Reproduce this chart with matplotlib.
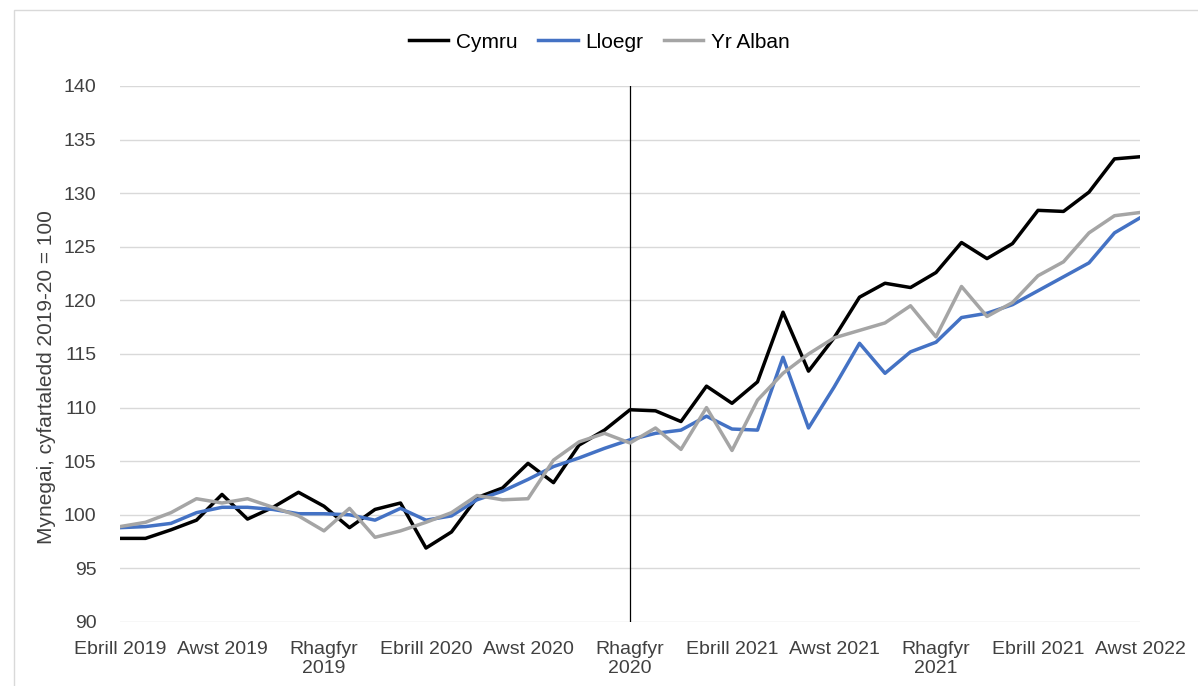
import matplotlib
matplotlib.use("Agg")
import matplotlib.pyplot as plt
from matplotlib.patches import Rectangle

plt.rcParams['font.family'] = ['Liberation Sans', 'DejaVu Sans']

tick_labels = ["Ebrill 2019", "Awst 2019", "Rhagfyr\n2019", "Ebrill 2020", "Awst 2020",
               "Rhagfyr\n2020", "Ebrill 2021", "Awst 2021", "Rhagfyr\n2021", "Ebrill 2021",
               "Awst 2022"]

cymru = [97.8, 97.8, 98.6, 99.5, 101.9, 99.6, 100.7, 102.1, 100.8, 98.8,
         100.5, 101.1, 96.9, 98.4, 101.6, 102.5, 104.8, 103.0, 106.5, 107.9,
         109.8, 109.7, 108.7, 112.0, 110.4, 112.4, 118.9, 113.4, 116.5, 120.3,
         121.6, 121.2, 122.6, 125.4, 123.9, 125.3, 128.4, 128.3, 130.1, 133.2,
         133.4]
lloegr = [98.8, 98.9, 99.2, 100.2, 100.7, 100.7, 100.5, 100.1, 100.1, 100.0,
          99.5, 100.6, 99.5, 99.9, 101.4, 102.2, 103.3, 104.5, 105.3, 106.2,
          107.0, 107.6, 107.9, 109.2, 108.0, 107.9, 114.7, 108.1, 111.9, 116.0,
          113.2, 115.2, 116.1, 118.4, 118.8, 119.6, 120.9, 122.2, 123.5, 126.3,
          127.7]
yr_alban = [98.9, 99.3, 100.2, 101.5, 101.1, 101.5, 100.7, 99.9, 98.5, 100.6,
            97.9, 98.5, 99.3, 100.2, 101.8, 101.4, 101.5, 105.1, 106.8, 107.6,
            106.7, 108.1, 106.1, 110.0, 106.0, 110.7, 113.2, 115.0, 116.5, 117.2,
            117.9, 119.5, 116.6, 121.3, 118.5, 119.8, 122.3, 123.6, 126.3, 127.9,
            128.2]
marker_index = 20

W, H = 1198, 686
fig = plt.figure(figsize=(W / 100, H / 100), dpi=100)
fig.patches.append(Rectangle((14 / W, -0.1), 1.2, 1 - 10 / H + 0.1, transform=fig.transFigure,
                             fill=False, edgecolor='#d9d9d9', linewidth=1.0))
ax = fig.add_axes([120 / W, 1 - 622 / H, (1140 - 120) / W, (622 - 86) / H])

x = list(range(len(cymru)))
ax.plot(x, cymru, color='black', lw=2.5, label='Cymru', solid_joinstyle='round')
ax.plot(x, lloegr, color='#4472C4', lw=2.5, label='Lloegr', solid_joinstyle='round')
ax.plot(x, yr_alban, color='#A5A5A5', lw=2.5, label='Yr Alban', solid_joinstyle='round')
ax.axvline(marker_index, color='black', lw=0.9, zorder=1)

ax.set_xlim(0, len(cymru) - 1)
ax.set_ylim(90, 140)
ax.set_yticks(range(90, 141, 5))
ax.set_xticks(range(0, len(cymru), 4))
ax.set_xticklabels(tick_labels, fontsize=14, color='#404040', linespacing=1.1)
ax.tick_params(axis='y', labelsize=14, labelcolor='#404040', length=0, pad=17)
ax.tick_params(axis='x', length=0, pad=14)
ax.grid(axis='y', color='#d9d9d9', lw=1.0)
ax.set_axisbelow(True)
for s in ax.spines.values():
    s.set_visible(False)
ax.set_ylabel('Mynegai, cyfartaledd 2019-20 = 100', fontsize=15, color='#404040', labelpad=5)
ax.yaxis.set_label_coords(-64 / (1140 - 120), 1 - (377 - 86) / (622 - 86))

fig.legend(loc='center', bbox_to_anchor=(0.5, 1 - 42 / H), ncol=3, frameon=False,
           fontsize=15, handlelength=1.9, handletextpad=0.35, columnspacing=1.0)

fig.savefig('out.png', dpi=100)
